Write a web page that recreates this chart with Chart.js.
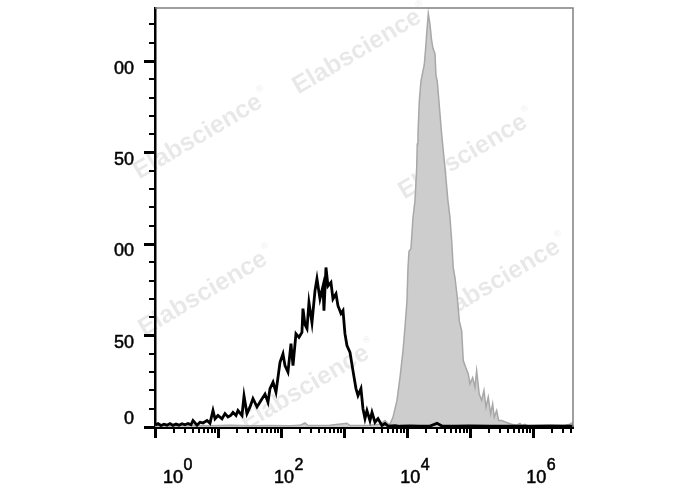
<!DOCTYPE html>
<html>
<head>
<meta charset="utf-8">
<title>Flow histogram</title>
<script src="https://cdn.jsdelivr.net/npm/chart.js@4.4.1/dist/chart.umd.min.js"></script>
<style>
  html, body { margin: 0; padding: 0; background: #fff; }
  canvas { display: block; }
</style>
</head>
<body>
<canvas id="histChart" width="688" height="490"></canvas>
<script>
// x positions are given in decades (log10 of intensity), y in counts

// black open histogram
const sampleLog = [
  0, 0.048, 0.095, 0.143, 0.190, 0.238, 0.285, 0.333, 0.381, 0.428,
  0.476, 0.523, 0.571, 0.603, 0.666, 0.714, 0.761, 0.825, 0.872, 0.920,
  0.952, 0.999, 1.063, 1.110, 1.158, 1.205, 1.237, 1.285, 1.316, 1.380,
  1.412, 1.459, 1.507, 1.554, 1.618, 1.681, 1.745, 1.792, 1.824, 1.872,
  1.919, 1.983, 2.030, 2.062, 2.109, 2.157, 2.189, 2.236, 2.284, 2.331,
  2.347, 2.379, 2.411, 2.442, 2.490, 2.538, 2.569, 2.617, 2.665, 2.680,
  2.712, 2.744, 2.791, 2.823, 2.871, 2.902, 2.950, 2.982, 3.013, 3.045,
  3.093, 3.140, 3.188, 3.220, 3.267, 3.299, 3.331, 3.362, 3.410, 3.442,
  3.489, 3.537, 3.600, 3.648, 3.696, 3.807, 3.886, 4.045, 4.203, 4.362,
  4.473, 4.552, 4.758, 4.996, 5.313, 5.630, 5.948, 6.265, 6.630
];
const sampleCount = [
  1.0, 1.8, 0.8, 1.5, 1.0, 1.9, 0.9, 1.6, 1.0, 1.8,
  1.2, 1.9, 1.2, 3.5, 1.0, 2.6, 2.2, 3.5, 2.0, 9.0,
  4.5, 6.3, 4.5, 7.3, 5.5, 6.5, 8.0, 6.3, 9.0, 6.3,
  17, 7.3, 11, 15.5, 11, 14.5, 18, 13.5, 21, 24.5,
  19, 35.4, 40, 33.5, 30, 45.6, 33.5, 51, 49, 51.7,
  64.7, 56, 53.8, 68, 57, 74.5, 81, 70, 77, 63.6,
  87.2, 77, 79, 70, 72.8, 66.3, 62, 63.6, 51, 44.5,
  40.8, 30.8, 21, 17.2, 21, 10, 4.6, 9, 3.5, 8,
  2.6, 4.6, 0.8, 1.9, 0.5, 0.8, 0.4, 0.6, 0.4, 0.5,
  2.0, 0.5, 0.4, 0.6, 0.4, 0.5, 0.4, 0.6, 0.5
];

// grey filled histogram
const controlLog = [
  0, 0.238, 0.555, 0.872, 1.190, 1.507, 1.824, 2.141, 2.300, 2.379,
  2.427, 2.776, 3.045, 3.093, 3.410, 3.569, 3.648, 3.696, 3.727, 3.775,
  3.838, 3.886, 3.934, 3.965, 3.997, 4.013, 4.029, 4.060, 4.092, 4.124,
  4.151, 4.160, 4.171, 4.192, 4.219, 4.271, 4.293, 4.309, 4.335, 4.362,
  4.385, 4.409, 4.441, 4.457, 4.477, 4.504, 4.547, 4.600, 4.647, 4.679,
  4.706, 4.731, 4.758, 4.795, 4.827, 4.864, 4.890, 4.928, 4.969, 4.996,
  5.039, 5.075, 5.102, 5.143, 5.182, 5.218, 5.250, 5.286, 5.324, 5.356,
  5.381, 5.420, 5.451, 5.499, 5.578, 5.657, 5.737, 5.789, 5.821, 5.868,
  5.916, 6.106, 6.344, 6.503, 6.582, 6.630
];
const controlCount = [
  0.8, 0.6, 0.9, 0.7, 0.9, 0.7, 0.8, 0.7, 0.9, 2.2,
  0.8, 0.9, 2.0, 0.8, 0.9, 1.5, 3.5, 1.8, 1.5, 5.3,
  14.5, 27, 41.7, 54.5, 69, 87, 96, 97.4, 114.5, 123.6,
  141.6, 154.7, 160, 178, 189, 198, 207, 214.7, 226, 220,
  212, 207, 204, 192, 189, 178, 160, 141.6, 123.6, 114.5,
  101.8, 87, 81.7, 70.8, 58, 52.7, 36.3, 32.6, 29, 23.6,
  27, 21.7, 30.8, 18, 14.5, 20, 10.8, 16.3, 7.2, 12.7,
  5.3, 9, 3.5, 3.5, 2.5, 1.5, 1.0, 2.0, 0.8, 1.5,
  0.6, 0.7, 0.6, 0.8, 1.5, 2.5
];

// axis labels as printed on the figure
const yLabelValues = [0, 50, 100, 150, 200];
const yLabelTexts = ['0', '50', '00', '50', '00'];
const xLabelDecades = [0, 2, 4, 6];

const X_MIN = 1;
const X_MAX = 4.27e6;
const Y_MAX = 229;
const FONT = '"Liberation Sans", Arial, sans-serif';

const toPoints = (logs, counts) => logs.map((d, i) => ({ x: Math.pow(10, d), y: counts[i] }));

/* ---------- plugins ---------- */
const watermark = {
    id: 'watermark',
    beforeDatasetsDraw(chart) {
        const ctx = chart.ctx;
        const spots = [[357, 52], [198, 137], [463, 157], [203, 294], [496, 282], [305, 388]];
        ctx.save();
        ctx.fillStyle = 'rgba(0,0,0,0.09)';
        spots.forEach(([cx, cy]) => {
            ctx.save();
            ctx.translate(cx, cy);
            ctx.rotate(-30.5 * Math.PI / 180);
            ctx.font = 'bold 25px ' + FONT;
            ctx.textAlign = 'center';
            ctx.textBaseline = 'middle';
            ctx.fillText('Elabscience', 0, 0);
            const w = ctx.measureText('Elabscience').width;
            ctx.font = '9px ' + FONT;
            ctx.textAlign = 'left';
            ctx.fillText('®', w / 2 + 2, -10);
            ctx.restore();
        });
        ctx.restore();
    }
};

// filled + thin stroke so the labels look as heavy as the scanned ones
function heavyText(ctx, txt, x, y) {
    ctx.fillText(txt, x, y);
    ctx.strokeText(txt, x, y);
}

const axisExtras = {
    id: 'axisExtras',
    afterDraw(chart) {
        const ctx = chart.ctx;
        const x = chart.scales.x, y = chart.scales.y;
        const area = chart.chartArea;
        ctx.save();

        // grey frame on top and right
        ctx.strokeStyle = '#808080';
        ctx.lineWidth = 1.5;
        ctx.beginPath();
        ctx.moveTo(area.left, area.top);
        ctx.lineTo(area.right, area.top);
        ctx.lineTo(area.right, area.bottom);
        ctx.stroke();

        // minor ticks (short)
        ctx.strokeStyle = '#000';
        ctx.lineWidth = 2;
        ctx.beginPath();
        x.ticks.forEach(t => {
            if (t.major) return;
            const px = Math.round(x.getPixelForValue(t.value));
            ctx.moveTo(px, x.top);
            ctx.lineTo(px, x.top + 6);
        });
        y.ticks.forEach(t => {
            if (t.value % 50 === 0) return;
            const py = Math.round(y.getPixelForValue(t.value));
            ctx.moveTo(y.right - 6, py);
            ctx.lineTo(y.right, py);
        });
        ctx.stroke();

        ctx.fillStyle = '#000';
        ctx.lineWidth = 0.5;

        // y labels, sitting just below their tick (the zero label just above)
        ctx.font = '18px ' + FONT;
        ctx.textAlign = 'right';
        ctx.textBaseline = 'middle';
        yLabelValues.forEach((v, i) => {
            const py = y.getPixelForValue(v) + (v === 0 ? -8 : 7.5);
            heavyText(ctx, yLabelTexts[i], y.right - 21, py);
        });

        // 10^n labels
        ctx.textBaseline = 'alphabetic';
        xLabelDecades.forEach(d => {
            let px = x.getPixelForValue(Math.pow(10, d)) + 3;
            if (d === 0) px += 15;
            ctx.font = '18px ' + FONT;
            ctx.textAlign = 'center';
            heavyText(ctx, '10', px, 483);
            const w = ctx.measureText('10').width;
            ctx.font = '16px ' + FONT;
            ctx.textAlign = 'left';
            heavyText(ctx, String(d), px + w / 2 + 0.5, 470);
        });
        ctx.restore();
    }
};

/* ---------- chart ---------- */
const ctx = document.getElementById('histChart').getContext('2d');

new Chart(ctx, {
    type: 'line',
    data: {
        datasets: [
            {
                label: 'Sample',
                data: toPoints(sampleLog, sampleCount),
                borderColor: '#000',
                borderWidth: 2.8,
                pointRadius: 0,
                fill: false,
                tension: 0
            },
            {
                label: 'Control',
                data: toPoints(controlLog, controlCount),
                borderColor: '#a8a8a8',
                borderWidth: 1.5,
                backgroundColor: '#cdcdcd',
                pointRadius: 0,
                fill: 'origin',
                tension: 0
            }
        ]
    },
    options: {
        responsive: false,
        animation: false,
        devicePixelRatio: 1,
        layout: { padding: { top: 8, right: 115, left: 0, bottom: 0 } },
        plugins: {
            legend: { display: false },
            tooltip: { enabled: false }
        },
        scales: {
            x: {
                type: 'logarithmic',
                position: 'bottom',
                min: X_MIN,
                max: X_MAX,
                afterBuildTicks(scale) {
                    const ticks = [];
                    for (let d = 0; d <= 6; d++) {
                        for (let m = 1; m <= 9; m++) {
                            const v = m * Math.pow(10, d);
                            if (v <= X_MAX) ticks.push({ value: v, major: m === 1 });
                        }
                    }
                    scale.ticks = ticks;
                },
                afterFit(scale) { scale.height = 63; },
                ticks: { display: false },
                grid: {
                    display: true,
                    drawOnChartArea: false,
                    drawTicks: true,
                    tickLength: 11,
                    tickWidth: 3,
                    tickColor: c => (c.tick && c.tick.major) ? '#000' : 'rgba(0,0,0,0)'
                },
                border: { display: true, color: '#000', width: 3 }
            },
            y: {
                type: 'linear',
                position: 'left',
                min: 0,
                max: Y_MAX,
                afterFit(scale) { scale.width = 155; },
                ticks: {
                    display: false,
                    stepSize: 10,
                    includeBounds: false,
                    autoSkip: false
                },
                grid: {
                    display: true,
                    drawOnChartArea: false,
                    drawTicks: true,
                    tickLength: 11,
                    tickWidth: 3,
                    tickColor: c => (c.tick && c.tick.value % 50 === 0) ? '#000' : 'rgba(0,0,0,0)'
                },
                border: { display: true, color: '#000', width: 2.5 }
            }
        }
    },
    plugins: [watermark, axisExtras]
});
</script>
</body>
</html>
